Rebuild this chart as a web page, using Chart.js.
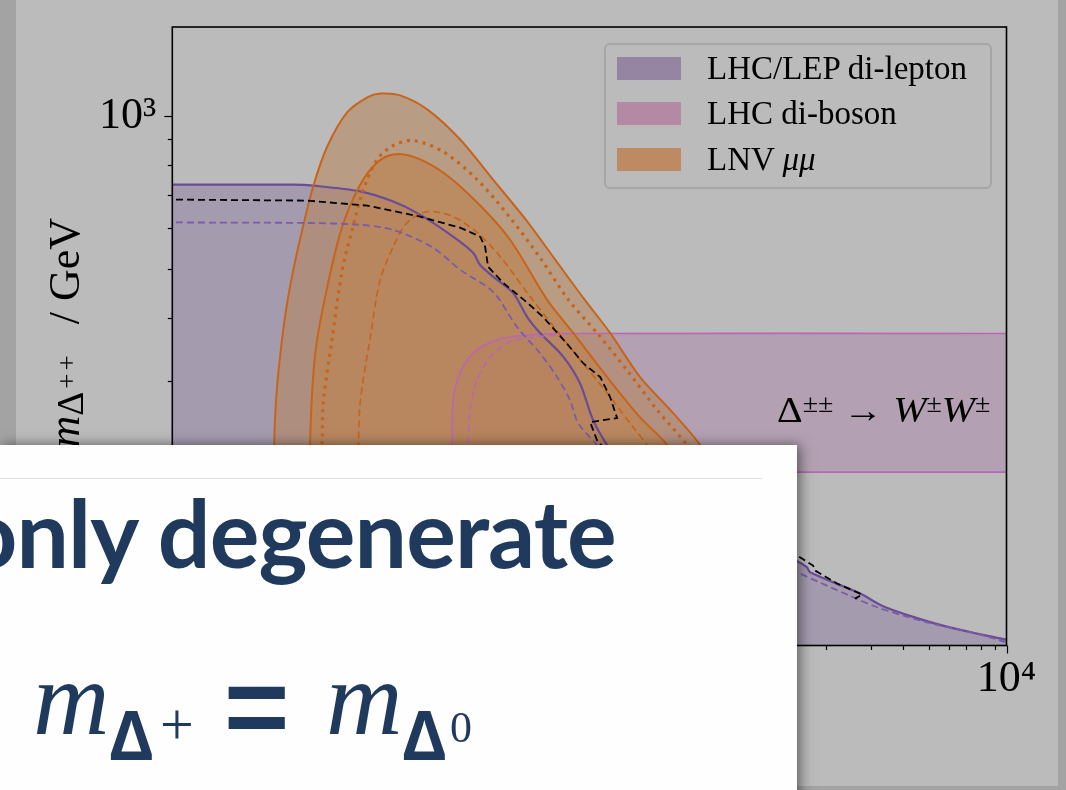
<!DOCTYPE html>
<html>
<head>
<meta charset="utf-8">
<title>Doubly charged scalar limits</title>
<script src="https://cdn.jsdelivr.net/npm/chart.js@4.4.1/dist/chart.umd.min.js"></script>
<style>
  html, body { margin: 0; padding: 0; }
  body { position: relative; width: 1066px; height: 790px; overflow: hidden; background: #a3a3a3; }
  #slide { position: absolute; left: 16px; top: 0; width: 1042px; height: 786px; background: #bbbbbb; }
  #plot { position: absolute; left: 0; top: 0; }
  .serif { font-family: 'Liberation Serif', 'DejaVu Serif', serif; color: #000; }
  #legend { position: absolute; left: 604px; top: 43px; width: 388px; height: 146px; box-sizing: border-box;
            border: 2px solid #a6a6a6; border-radius: 6px; }
  .leg-item { position: absolute; left: 0; width: 100%; height: 45px; }
  .leg-patch { position: absolute; left: 11px; top: 12px; width: 64px; height: 23px; }
  .leg-text { position: absolute; left: 101px; top: 7px; font-size: 33px; line-height: 33px; white-space: nowrap; }
  #wwlabel { position: absolute; left: 777px; top: 393px; font-size: 35px; line-height: 35px; white-space: nowrap;
             transform-origin: 0 0; transform: scaleX(1.14); }
  .up { position: relative; top: -0.42em; font-size: 0.7em; }
  #ytitle { position: absolute; left: 40px; top: 618px; width: 400px; height: 50px; line-height: 50px; font-size: 44px;
            text-align: right; white-space: nowrap; transform-origin: 0 0; transform: rotate(-90deg); }
  #ytitle .sub { position: relative; top: 0.1em; font-size: 0.85em; margin-right: 28px; letter-spacing: 3px; }
  #ytitle .sup { position: relative; top: -0.25em; font-size: 0.72em; }
  #box { position: absolute; left: 0; top: 445px; width: 797px; height: 360px; background: #fefefe;
         box-shadow: 3px 0 12px rgba(0,0,0,0.5); overflow: hidden; }
  #box .rule { position: absolute; left: 0; top: 33px; width: 762px; height: 1px; background: #e2e2e2; }
  #box .head { position: absolute; left: -36px; top: 41px; font-family: Lato, 'Open Sans', sans-serif; font-weight: 700;
               font-size: 93px; line-height: 93px; color: #1f3a5c; white-space: nowrap; letter-spacing: -0.9px; }
  .math { position: absolute; color: #1f3a5c; white-space: nowrap; line-height: 1; }
  .mi { font-family: 'Liberation Serif', serif; font-style: italic; font-size: 106px; }
  .md { font-family: 'Open Sans', sans-serif; font-weight: 700; font-size: 68px; }
  .mr { font-family: 'Liberation Serif', serif; }
  .meq { font-family: 'Liberation Sans', sans-serif; font-weight: 700; font-size: 112px; }
</style>
</head>
<body>
<div id="slide"></div>
<canvas id="plot" width="1066" height="790"></canvas>
<div id="legend" class="serif"></div>
<div id="wwlabel" class="serif">Δ<span class="up">±±</span> → <i>W</i><span class="up">±</span><i>W</i><span class="up">±</span></div>
<div id="ytitle" class="serif"><i>m</i><span class="sub">Δ<span class="sup">++</span></span>/ GeV</div>
<div id="box">
  <div class="rule"></div>
  <div class="head">only degenerate</div>
  <span class="math mi" style="left:33px; top:201px;">m</span>
  <span class="math md" style="left:109px; top:255px;">Δ</span>
  <span class="math mr" style="left:160px; top:249px; font-size:60px;">+</span>
  <span class="math meq" style="left:224px; top:206px;">=</span>
  <span class="math mi" style="left:326px; top:201px;">m</span>
  <span class="math md" style="left:402px; top:255px;">Δ</span>
  <span class="math mr" style="left:450px; top:261px; font-size:44px;">0</span>
</div>

<script>
// axis ranges (log-log)
const xMin = 6, xMax = 10000;
const yMin = 90, yMax = 1500;

const xTickValues = [6, 7, 8, 9, 10, 20, 30, 40, 50, 60, 70, 80, 90, 100, 200, 300, 400, 500, 600, 700, 800, 900,
                     1000, 2000, 3000, 4000, 5000, 6000, 7000, 8000, 9000, 10000];
const yTickValues = [90, 100, 200, 300, 400, 500, 600, 700, 800, 900, 1000];
const decadeLabels = { 10: '10¹', 100: '10²', 1000: '10³', 10000: '10⁴' };

// LHC/LEP di-lepton: observed (solid), expected (dashed), other (black dashed)
const dileptonObsX = [6, 17.6, 21.0, 31.9, 42.8, 54.3, 72.9, 87.1, 92.7, 104, 124, 141, 158, 194, 225, 253, 287,
                      384.5, 1553, 1693, 1743, 2720, 3337, 4240, 5686, 7691, 10000];
const dileptonObsY = [732, 732, 729, 710, 678, 639, 578, 537, 508, 482, 448, 401, 373, 335, 297, 251, 224,
                      182, 132, 128.5, 125.6, 114, 107.6, 103, 98.5, 95, 92.4];
const dileptonExpX = [6.2, 19.9, 31.9, 42.8, 61.1, 77.6, 104, 128.8, 158, 183.9, 206, 221.6, 262, 384.5, 1553,
                      2555, 3162, 4932, 7691, 10000];
const dileptonExpY = [616.6, 615, 610, 596, 549.5, 497, 449.7, 383, 340, 305, 275, 247.4, 224, 175, 125.6,
                      112.1, 107.1, 100, 95, 91.3];
const dileptonAltX = [6.2, 19.9, 34.0, 54.3, 77.6, 92.7, 96.9, 99.5, 113.7, 141, 162.3, 200, 231.7, 270, 294.5,
                      313.4, 246.6, 262, 276.7, 450, 1553, 1790, 1822, 2216, 2768, 2601];
const dileptonAltY = [684, 681, 665.6, 633, 602, 578, 552, 504, 468.6, 428, 401, 356, 325, 305, 278.6,
                      253.2, 248.6, 229, 221.7, 180, 135.5, 129.5, 126.6, 119.3, 113.5, 111.4];

// LHC di-boson band
const dibosonTopX = [72.3, 72.3, 72.9, 77.6, 87.1, 107.4, 144.6, 212, 10000];
const dibosonTopY = [198, 224, 275, 311, 340, 361, 370, 372, 372];
const dibosonBottomX = [72.3, 10000];
const dibosonBottomY = [198, 198];
const dibosonExpX = [83.2, 83.4, 84.8, 90.3, 101.3, 121, 153.9, 183.9];
const dibosonExpY = [205, 224, 263, 301, 334.5, 358, 366.4, 369.6];

// LNV mu mu contours
const lnvOuterX = [14.6, 14.85, 15.1, 15.7, 16.5, 17.6, 19.05, 21.0, 23.8, 28.4, 34.0, 38.1, 45.5, 57.9, 77.6,
                   104, 141, 181, 232, 294.5, 384.5, 516, 656, 935, 1459];
const lnvOuterY = [110.4, 224, 275, 340.5, 414, 497, 596, 726, 871, 1017, 1089, 1108, 1099, 1031, 899,
                   749, 619, 520, 437.5, 373, 305, 259, 224, 166.4, 110.4];
const lnvDottedX = [22.55, 22.76, 22.96, 24.9, 27.2, 29.7, 32.8, 37.1, 42.8, 51.1, 66.7, 90.3, 121, 158, 203,
                    262, 342, 447, 584, 783];
const lnvDottedY = [209, 232, 271, 366, 497, 596, 716, 821, 875, 895, 851, 749, 630, 525, 434,
                    373, 315, 263, 224, 182];
const lnvInnerX = [20.1, 20.46, 21.4, 23.8, 27.2, 31.9, 37.1, 42.8, 51.1, 66.7, 90.3, 121, 168, 212, 287,
                   384.5, 489, 656, 978];
const lnvInnerY = [110.4, 232, 340.5, 460, 605, 732, 810, 840, 832, 774, 675, 570, 434, 373, 305,
                   254, 224, 174, 110.4];
const lnvDashedX = [31.3, 31.9, 34.9, 38.1, 42.8, 47.6, 54.3, 61.1, 73.0, 90.3, 110.8, 144.6, 177.4, 225.6,
                    286.7, 361, 409, 502];
const lnvDashedY = [209, 271, 366, 475, 552, 610, 642, 648, 633, 589, 528, 440, 385, 330,
                    284, 243, 224, 191];

const legendLabels = ['LHC/LEP di-lepton', 'LHC di-boson', 'LNV μμ'];
const legendColors = ['#9684a3', '#b389a3', '#bd8a62'];

const purple = '#6b4c96';
const orange = '#c8641a';
const pink = '#bb66b5';

function pts(xs, ys) {
    return xs.map((x, i) => ({ x: x, y: ys[i] }));
}

function curve(label, xs, ys, color, extra) {
    return Object.assign({
        label: label,
        data: pts(xs, ys),
        showLine: true,
        borderColor: color,
        borderWidth: 2,
        pointRadius: 0,
        tension: 0.3,
        fill: false
    }, extra);
}

// ticks and frame drawn like matplotlib (major longer than minor)
const axisFrame = {
    id: 'axisFrame',
    afterDatasetsDraw(chart) {
        const { ctx, chartArea: a, scales: { x, y } } = chart;
        ctx.save();
        ctx.strokeStyle = '#000';
        ctx.lineWidth = 1.2;
        xTickValues.forEach(v => {
            const px = Math.round(x.getPixelForValue(v)) + 0.5;
            const len = decadeLabels[v] ? 8 : 4.5;
            ctx.beginPath();
            ctx.moveTo(px, a.bottom);
            ctx.lineTo(px, a.bottom + len);
            ctx.stroke();
        });
        yTickValues.forEach(v => {
            const py = Math.round(y.getPixelForValue(v)) + 0.5;
            const len = decadeLabels[v] ? 8 : 4.5;
            ctx.beginPath();
            ctx.moveTo(a.left, py);
            ctx.lineTo(a.left - len, py);
            ctx.stroke();
        });
        ctx.lineWidth = 1.6;
        ctx.strokeRect(a.left, a.top, a.right - a.left, a.bottom - a.top);
        ctx.restore();
    }
};

const tickFont = { family: "'Liberation Serif', 'DejaVu Serif', serif", size: 44 };
const hiddenGrid = { display: true, drawOnChartArea: false, drawTicks: true, tickLength: 8,
                     color: 'rgba(0,0,0,0)', tickColor: 'rgba(0,0,0,0)' };

new Chart(document.getElementById('plot'), {
    type: 'scatter',
    data: {
        datasets: [
            curve('LHC di-boson', dibosonTopX, dibosonTopY, pink,
                  { borderWidth: 1.6, fill: { value: 198 }, backgroundColor: 'rgba(150,60,150,0.2)', order: 9 }),
            curve('di-boson lower edge', dibosonBottomX, dibosonBottomY, pink, { borderWidth: 1.6, order: 9 }),
            curve('LHC/LEP di-lepton', dileptonObsX, dileptonObsY, purple,
                  { borderWidth: 2.2, fill: 'start', backgroundColor: 'rgba(112,84,150,0.30)', order: 8 }),
            curve('LNV outer', lnvOuterX, lnvOuterY, orange,
                  { fill: 'start', backgroundColor: 'rgba(182,131,87,0.55)', order: 7 }),
            curve('LNV inner', lnvInnerX, lnvInnerY, orange,
                  { fill: 'start', backgroundColor: 'rgba(188,132,83,0.7)', order: 6 }),
            curve('LNV dotted', lnvDottedX, lnvDottedY, orange, { borderWidth: 3.2, borderDash: [3, 5], order: 5 }),
            curve('LNV dashed', lnvDashedX, lnvDashedY, orange, { borderWidth: 1.7, borderDash: [7, 4], order: 4 }),
            curve('di-boson expected', dibosonExpX, dibosonExpY, pink, { borderWidth: 1.6, borderDash: [7, 4], order: 3 }),
            curve('di-lepton expected', dileptonExpX, dileptonExpY, '#7b5ca6',
                  { borderWidth: 1.8, borderDash: [7, 4], order: 2 }),
            curve('di-lepton other', dileptonAltX, dileptonAltY, '#000',
                  { borderWidth: 1.8, borderDash: [7, 4], tension: 0, order: 1 })
        ]
    },
    options: {
        responsive: false,
        devicePixelRatio: 1,
        animation: false,
        events: [],
        layout: { padding: { left: 0, top: 27, right: 59.5, bottom: 0 } },
        plugins: {
            legend: { display: false },
            tooltip: { enabled: false },
            filler: { drawTime: 'beforeDatasetsDraw' }
        },
        scales: {
            x: {
                type: 'logarithmic',
                min: xMin,
                max: xMax,
                afterBuildTicks: scale => { scale.ticks = xTickValues.map(v => ({ value: v })); },
                afterFit: scale => {
                    scale.height = 144.5;
                    scale.paddingLeft = 0;
                    scale.paddingRight = 0;
                },
                border: { display: false },
                grid: hiddenGrid,
                ticks: {
                    autoSkip: false, maxRotation: 0, padding: 0, color: '#000', font: tickFont,
                    callback: v => decadeLabels[v] || ''
                }
            },
            y: {
                type: 'logarithmic',
                min: yMin,
                max: yMax,
                afterBuildTicks: scale => { scale.ticks = yTickValues.map(v => ({ value: v })); },
                afterFit: scale => {
                    scale.width = 172.3;
                    scale.paddingTop = 0;
                    scale.paddingBottom = 0;
                },
                border: { display: false },
                grid: hiddenGrid,
                ticks: {
                    autoSkip: false, padding: 8, color: '#000', font: tickFont,
                    callback: v => decadeLabels[v] || ''
                }
            }
        }
    },
    plugins: [axisFrame]
});

// legend box, built from the label/colour lists
const legend = document.getElementById('legend');
legendLabels.forEach((label, i) => {
    const item = document.createElement('div');
    item.className = 'leg-item';
    item.style.top = (i * 45.3) + 'px';
    const patch = document.createElement('div');
    patch.className = 'leg-patch';
    patch.style.background = legendColors[i];
    const text = document.createElement('div');
    text.className = 'leg-text';
    text.innerHTML = label.replace('μμ', '<i>μμ</i>');
    item.appendChild(patch);
    item.appendChild(text);
    legend.appendChild(item);
});
</script>
</body>
</html>
